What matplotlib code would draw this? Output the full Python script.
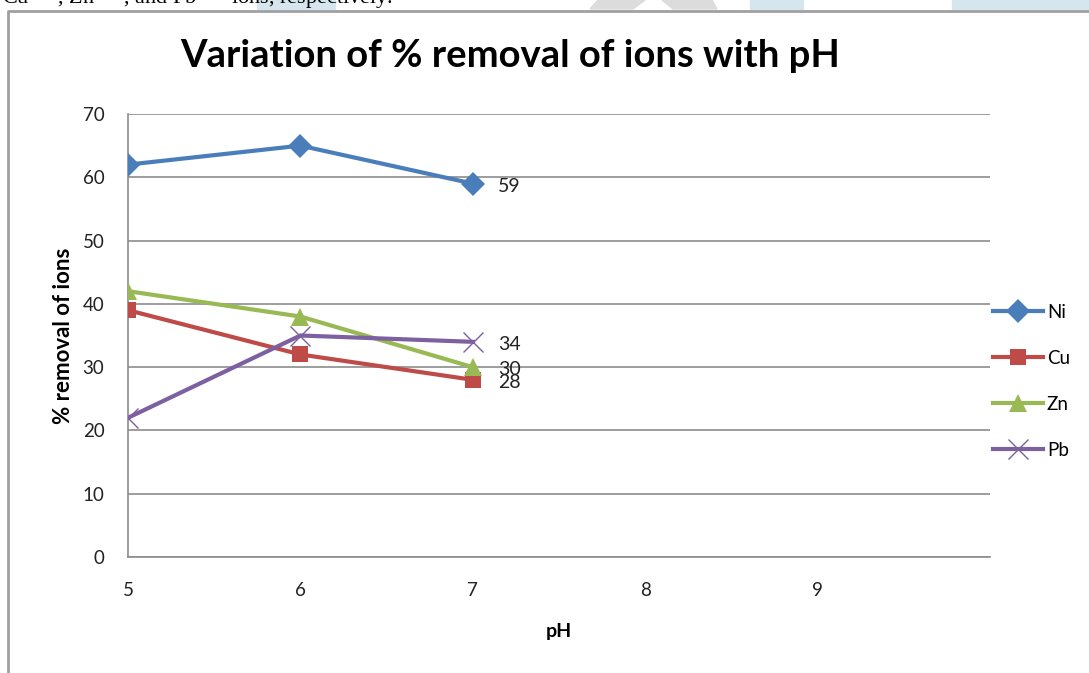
import matplotlib.pyplot as plt
from matplotlib.patches import Rectangle, Polygon
from matplotlib.lines import Line2D

# data
ph = [5, 6, 7]
ni = [62, 65, 59]
cu = [39, 32, 28]
zn = [42, 38, 30]
pb = [22, 35, 34]
xticks = [5, 6, 7, 8, 9]
yticks = [0, 10, 20, 30, 40, 50, 60, 70]

plt.rcParams['font.family'] = ['Lato', 'DejaVu Sans']

fig = plt.figure(figsize=(10.89, 6.73), dpi=100)
W, H = 1089, 673

def fx(px):
    return px / W

def fy(py):
    return 1 - py / H

# page bits behind the chart (watermark + cut off text line)
for x0, x1, c in [(257, 335, '#d5e6ef'), (750, 803, '#d5e6ef'), (952, 1089, '#d5e6ef')]:
    fig.patches.append(Rectangle((fx(x0), fy(9)), fx(x1 - x0), 9 / H,
                                 transform=fig.transFigure, color=c, zorder=0))
fig.patches.append(Polygon([(fx(590), fy(9)), (fx(633), fy(9)), (fx(645), fy(0)), (fx(598), fy(0))],
                           closed=True, transform=fig.transFigure, color='#dcdcdc', zorder=0))
fig.patches.append(Polygon([(fx(673), fy(9)), (fx(717), fy(9)), (fx(712), fy(0)), (fx(662), fy(0))],
                           closed=True, transform=fig.transFigure, color='#dcdcdc', zorder=0))
fig.text(fx(2), fy(-3), 'Cu$^{2+}$, Zn$^{2+}$, and Pb$^{2+}$ ions, respectively.',
         family='Liberation Serif', fontsize=16, va='center', ha='left', color='black')

# chart border
fig.lines.append(Line2D([fx(8), fx(8), fx(1089)], [fy(673), fy(11), fy(11)],
                        transform=fig.transFigure, color='#a0a0a0', lw=2))

ax = fig.add_axes([fx(128), fy(557), fx(990 - 128), (557 - 114) / H])

series = [
    ('Ni', ni, '#4a7ebb', 'D', 12),
    ('Cu', cu, '#be4b48', 's', 12),
    ('Zn', zn, '#98b954', '^', 13),
    ('Pb', pb, '#7d60a0', 'x', 14),
]
for name, vals, col, mk, ms in series:
    mew = 1 if mk == 'x' else 0
    ax.plot(ph, vals, color=col, lw=3, marker=mk, markersize=ms,
            markeredgewidth=mew, markeredgecolor=col, label=name, zorder=3)
    ax.annotate(str(vals[-1]), (ph[-1], vals[-1]), xytext=(18, -2),
                textcoords='offset points', va='center', ha='left',
                fontsize=14, color='#222222', zorder=4)

ax.set_xlim(5, 10)
ax.set_ylim(0, 70)
ax.set_xticks(xticks)
ax.set_yticks(yticks)
ax.tick_params(length=0, labelsize=13.5, colors='#222222')
ax.tick_params(axis='y', pad=17)
ax.tick_params(axis='x', pad=18)
ax.grid(axis='y', color='#8c8c8c', lw=1.2)
ax.set_axisbelow(True)
for s in ['top', 'right']:
    ax.spines[s].set_visible(False)
for s in ['left', 'bottom']:
    ax.spines[s].set_color('#8c8c8c')
    ax.spines[s].set_linewidth(1.2)

ax.set_xlabel('pH', fontsize=14, fontweight='bold', labelpad=17)
ax.set_ylabel('% removal of ions', fontsize=16, fontweight='bold', labelpad=6)

fig.text(fx(510), fy(56), 'Variation of % removal of ions with pH',
         fontsize=27.5, fontweight='bold', ha='center', va='center')

ax.legend(loc='center left', bbox_to_anchor=(1.003, 0.397), frameon=False,
          fontsize=13.5, handlelength=2.7, handletextpad=0.2, labelspacing=1.55,
          borderaxespad=0.0, borderpad=0.0)

fig.savefig('out.png', dpi=100)
